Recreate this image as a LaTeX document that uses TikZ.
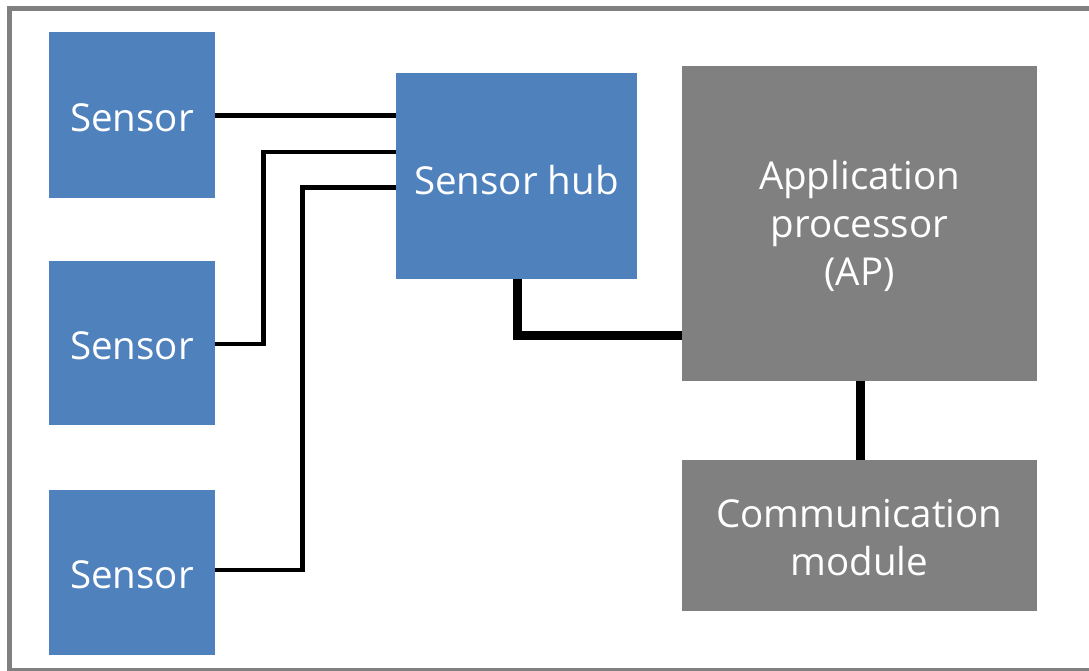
\documentclass[tikz,border=0pt]{standalone}
\usepackage{fontspec}
\setmainfont{Open Sans}
\definecolor{boxblue}{HTML}{4F81BD}
\definecolor{boxgray}{HTML}{808080}
\begin{document}
\begin{tikzpicture}[x=1pt,y=-1pt,
  blk/.style={draw=none,inner sep=0pt},
  txt/.style={text=white,align=center,inner sep=0pt,yshift=-2.5pt,
    font=\fontsize{38.5}{48}\selectfont},
  bluebox/.style={blk,fill=boxblue},
  graybox/.style={blk,fill=boxgray},
  thinwire/.style={line width=4.5pt,black},
  thickwire/.style={line width=9pt,black}]
\useasboundingbox (0,0) rectangle (1089,671);
\fill[white] (0,0) rectangle (1089,671);
\begin{scope}
\clip (0,0) rectangle (1089,671);
\draw[boxgray,line width=5pt] (9.8,8.2) rectangle (1100,670.5);
\end{scope}
\node[bluebox,minimum width=166pt,minimum height=166pt,
  label={[txt]center:Sensor}] (s1) at (132,115) {};
\node[bluebox,minimum width=166pt,minimum height=164pt,
  label={[txt]center:Sensor}] (s2) at (132,343) {};
\node[bluebox,minimum width=166pt,minimum height=165pt,
  label={[txt]center:Sensor}] (s3) at (132,572.5) {};
\node[bluebox,minimum width=241pt,minimum height=206pt,
  label={[txt,yshift=-1.5pt]center:Sensor hub}] (hub) at (516.5,176) {};
\node[graybox,minimum width=355pt,minimum height=314pt,
  label={[txt]center:{Application\\processor\\(AP)}}] (ap) at (859.5,223.5) {};
\node[graybox,minimum width=355pt,minimum height=151pt,
  label={[txt]center:{Communication\\module}}] (comm) at (859.5,535.5) {};
\coordinate (h1) at (396,115.5);
\coordinate (h2) at (396,152);
\coordinate (h3) at (396,187.5);
\draw[thinwire] (s1.east |- h1) -- (h1);
\draw[thinwire] (s2.east |- 0,344) -| (263.5,152) -- (h2);
\draw[thinwire] (s3.east |- 0,570) -| (302.5,187.5) -- (h3);
\draw[thickwire] (hub.south -| 517.5,0) |- (ap.west |- 0,335.5);
\draw[thickwire] (ap.south -| 860.7,0) -- (comm.north -| 860.7,0);
\end{tikzpicture}
\end{document}
